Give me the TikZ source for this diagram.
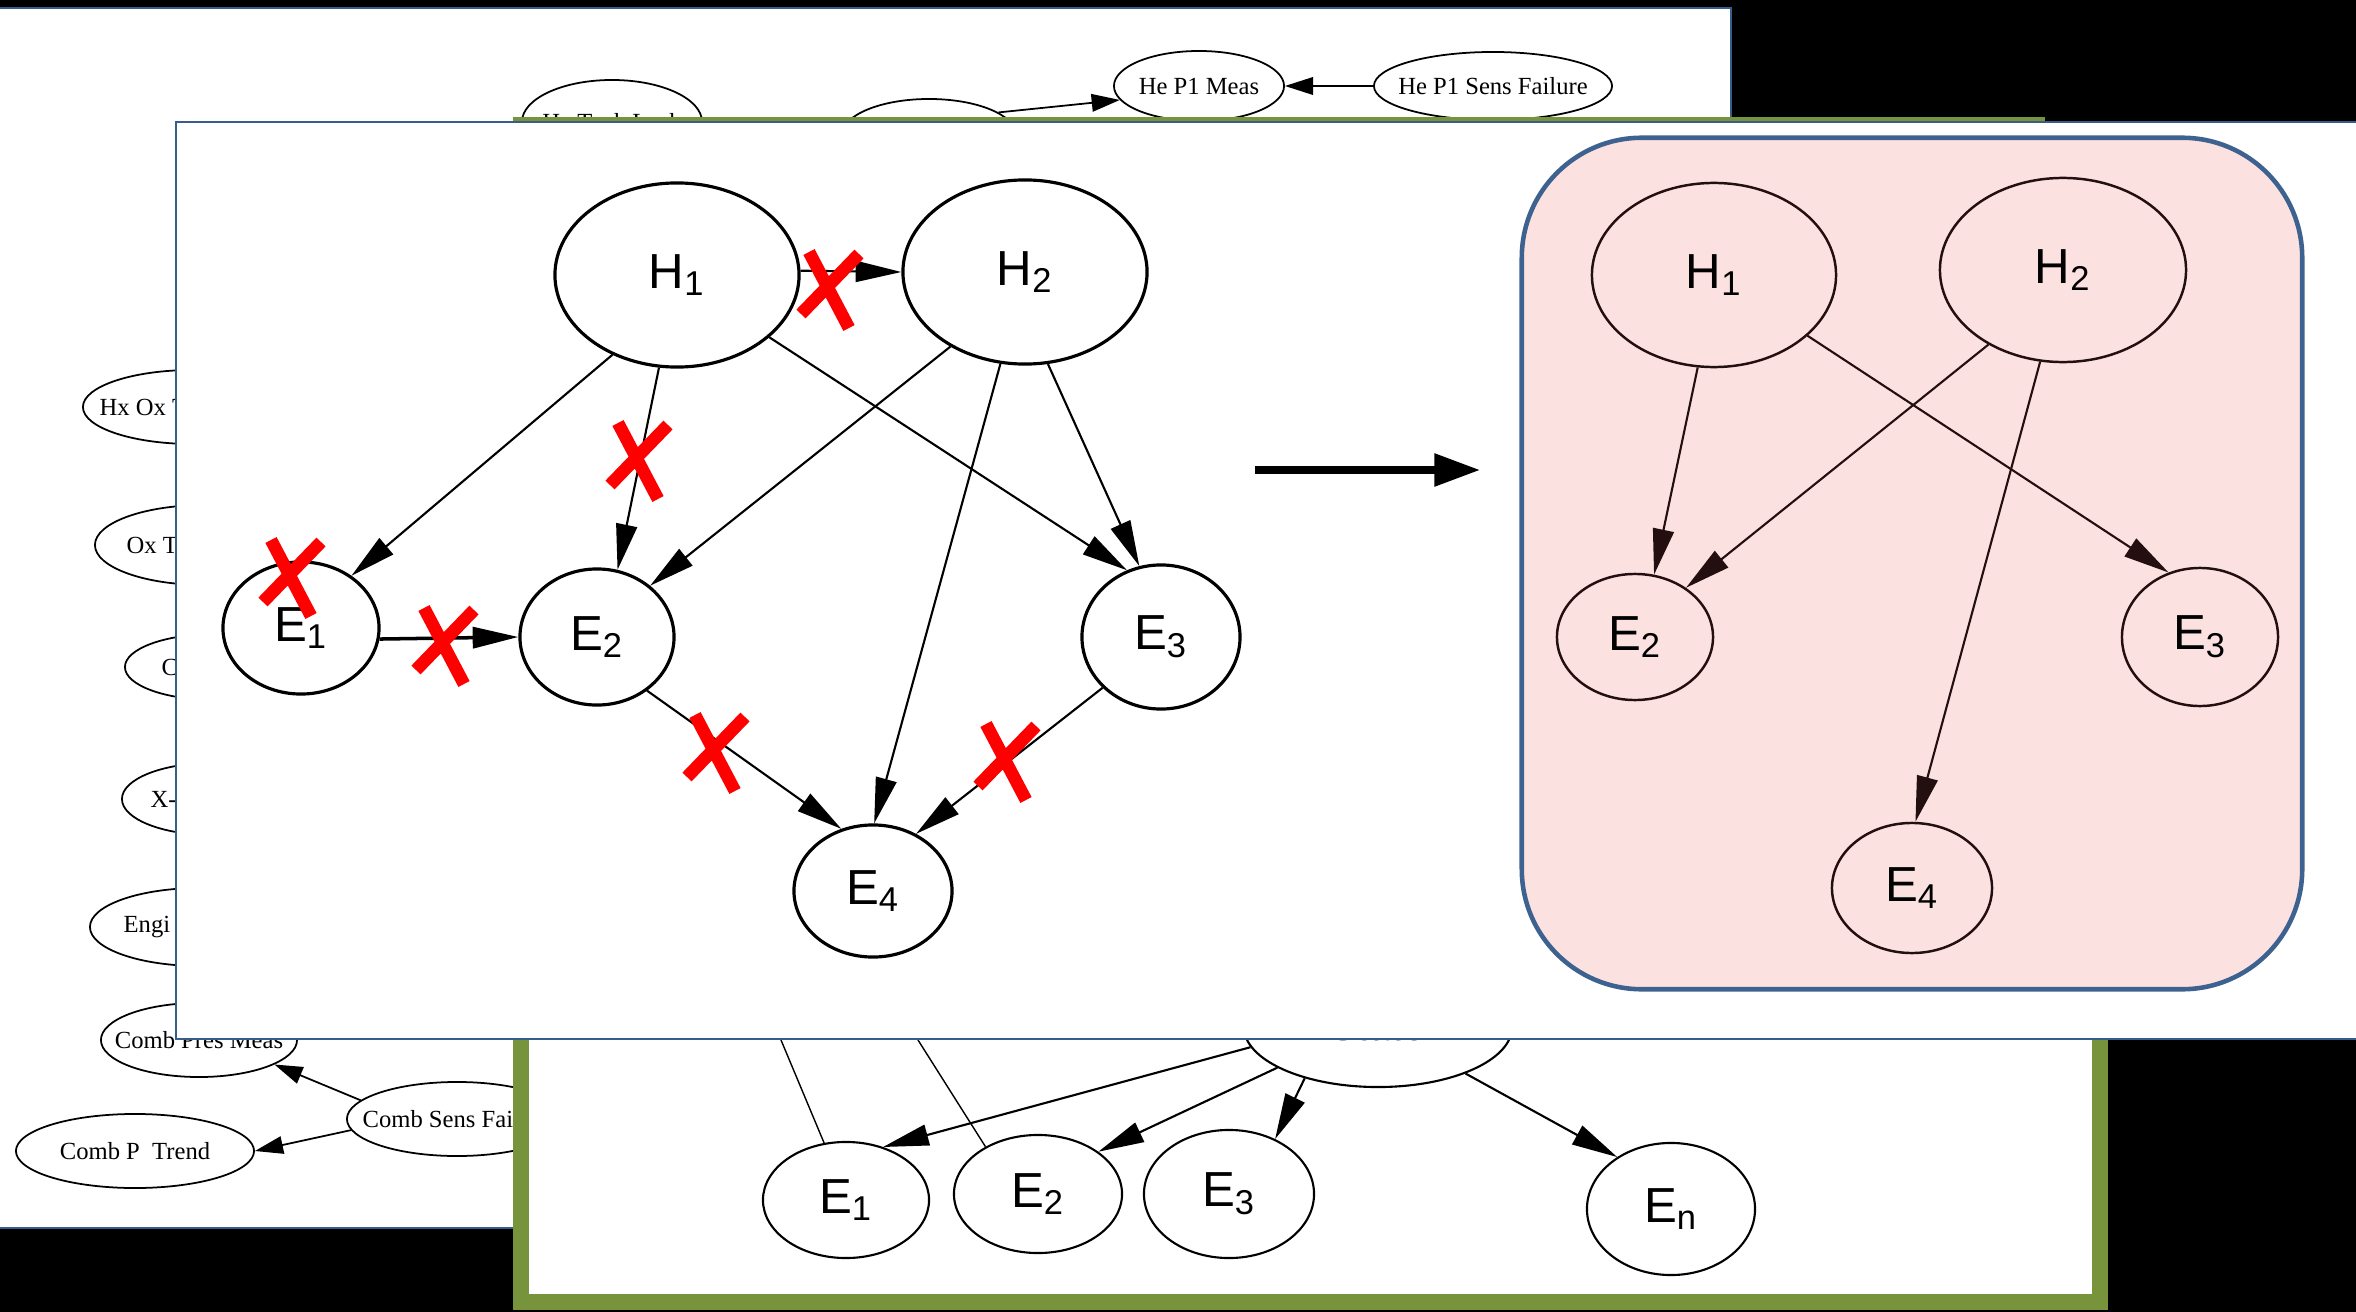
\documentclass[tikz,border=0pt]{standalone}
\usepackage{fontspec}
\setmainfont{Liberation Sans}
\newfontfamily\oldgraph{Liberation Serif}
\usepackage{xcolor}
\usetikzlibrary{arrows.meta,shapes.geometric,positioning}

\definecolor{panelblue}{RGB}{56,93,138}
\definecolor{framegreen}{RGB}{119,147,60}
\definecolor{boxblue}{RGB}{62,98,143}
\definecolor{boxpink}{RGB}{252,225,225}
\definecolor{inkdark}{RGB}{35,15,15}

\tikzset{
  nope/.pic={\draw[red,line width=3.6pt] (-22,-38) -- (18,38) (28,-36) -- (-30,24);}
}

\begin{document}
\begin{tikzpicture}[x=0.01cm,y=-0.01cm,auto,inner sep=1pt,
  >={Triangle[length=13pt,width=6pt]},
  hyp/.style={ellipse,draw,line width=0.9pt,inner sep=0pt,minimum width=2.44cm,minimum height=1.84cm,font=\fontsize{14}{14}\selectfont},
  evd/.style={ellipse,draw,line width=0.9pt,inner sep=0pt,minimum width=1.56cm,minimum height=1.34cm,font=\fontsize{14}{14}\selectfont},
  old/.style={ellipse,draw,line width=0.5pt,inner xsep=-0.25cm,inner ysep=-0.05cm,font=\oldgraph\fontsize{7}{8}\selectfont},
  frag/.style={anchor=west,inner sep=0pt,font=\oldgraph\fontsize{7}{8}\selectfont},
  link/.style={->,line width=0.6pt},
  oldlink/.style={->,line width=0.5pt,>={Triangle[length=8pt,width=5pt]}}]

\useasboundingbox (0,0) rectangle (2356,1312);
\fill[black] (0,0) rectangle (2356,1312);

% sheet at the back
\filldraw[fill=white,draw=panelblue,line width=0.6pt] (-20,8) rectangle (1731,1228);

\node[old,minimum width=1.70cm,minimum height=0.70cm] (meas) at (1199,86) {He P1 Meas};
\node[old,minimum width=2.38cm,minimum height=0.68cm] (sensf) at (1493,86) {He P1 Sens Failure};
\node[old,minimum width=1.74cm,minimum height=0.72cm] (hid) at (929,135) {};
\node[old,minimum width=1.80cm,minimum height=0.84cm] (leak) at (612,122) {He Tank Leak};
\path (sensf) edge[oldlink] (meas);
\path (hid.18) edge[oldlink] (meas.190);

\node[old,minimum width=2.2cm,minimum height=0.74cm] (hxox) at (193,407) {};
\node[frag] (hxoxt) at (99,407) {Hx Ox T};
\node[old,minimum width=2.2cm,minimum height=0.80cm] (oxt) at (205,545) {};
\node[frag] (oxtt) at (126,545) {Ox T};
\node[old,minimum width=1.8cm,minimum height=0.66cm] (cc) at (215,667) {};
\node[frag] (cct) at (161,667) {C};
\node[old,minimum width=1.8cm,minimum height=0.72cm] (xx) at (212,799) {};
\node[frag] (xxt) at (150,799) {X-};
\node[old,minimum width=2.2cm,minimum height=0.78cm] (engi) at (200,927) {};
\node[frag] (engit) at (123,927) {Engi};
\node[old,minimum width=1.96cm,minimum height=0.74cm] (cpm) at (199,1040) {Comb Pres Meas};
\node[old,minimum width=2.20cm,minimum height=0.74cm] (csf) at (457,1119) {Comb Sens Failure};
\node[old,minimum width=2.38cm,minimum height=0.74cm] (cpt) at (135,1151) {Comb P\ \ Trend};
\path (csf.169) edge[oldlink] (cpm.342);
\path (csf.186) edge[oldlink] (cpt.0);

% green sheet
\fill[white] (521,125) rectangle (2100,1302);
\draw[framegreen,line width=4.3pt] (2045,125) -- (521,125) -- (521,1302) -- (2100,1302) -- (2100,1000);

\node[ellipse,draw,line width=0.6pt,minimum width=2.68cm,minimum height=1.2cm,font=\bfseries\fontsize{11}{11}\selectfont] (state) at (1378,1027) {State};
\node[evd,line width=0.6pt,minimum width=1.66cm,minimum height=1.16cm] (b1) at (846,1200) {E\textsubscript{1}};
\node[evd,line width=0.6pt,minimum width=1.68cm,minimum height=1.18cm] (b2) at (1038,1194) {E\textsubscript{2}};
\node[evd,line width=0.6pt,minimum width=1.70cm,minimum height=1.28cm] (b3) at (1229,1194) {E\textsubscript{3}};
\node[evd,line width=0.6pt,minimum width=1.68cm,minimum height=1.32cm] (bn) at (1671,1209) {E\textsubscript{n}};
\coordinate (up1) at (781,1040);
\coordinate (up2) at (918,1040);

\path (state.189) edge[link] (b1.55);
\path (state.202) edge[link] (b2.35);
\path (state.215) edge[link] (b3.50);
\path (state.332) edge[link] (bn.136);
\path (up1) edge[line width=0.4pt] (b1.111);
\path (up2) edge[line width=0.4pt] (b2.138);

% front sheet
\filldraw[fill=white,draw=panelblue,line width=0.8pt] (176,122) rectangle (2380,1039);

\node[hyp] (H1) at (677,275) {H\textsubscript{1}};
\node[hyp] (H2) at (1025,272) {H\textsubscript{2}};
\node[evd,minimum height=1.32cm] (E1) at (301,628) {E\textsubscript{1}};
\node[evd,minimum width=1.54cm,minimum height=1.36cm] (E2) at (597,637) {E\textsubscript{2}};
\node[evd,minimum width=1.58cm,minimum height=1.44cm] (E3) at (1161,637) {E\textsubscript{3}};
\node[evd,minimum width=1.58cm,minimum height=1.32cm] (E4) at (873,891) {E\textsubscript{4}};

\path (H1.2) edge[link] (H2.180);
\path (H1.231) edge[link] (E1.46);
\path (H1.259) edge[link] (E2.73);
\path (H1.326) edge[link] (E3.117);
\path (H2.225) edge[link] (E2.44);
\path (H2.284) edge[link] (E3.107);
\path (H2.255) edge[link] (E4.89);
\path (E1.352) edge[link,line width=1pt] (E2.180);
\path (E2.313) edge[link] (E4.117);
\path (E3.221) edge[link] (E4.53);

\pic at (831,290) {nope};
\pic at (640,461) {nope};
\pic at (293,578) {nope};
\pic at (446,646) {nope};
\pic at (717,753) {nope};
\pic at (1008,762) {nope};

\coordinate (go) at (1255,470);
\coordinate (to) at (1480,470);
\draw[->,line width=2pt,>={Triangle[length=13pt,width=9pt]}] (go) -- (to);

% pruned graph
\node[draw=boxblue,fill=boxpink,line width=1.3pt,rounded corners=1.2cm,minimum width=7.8cm,minimum height=8.51cm] (after) at (1912,563.5) {};
\node[hyp,line width=0.7pt,draw=inkdark] (H1r) at (1714,275) {H\textsubscript{1}};
\node[hyp,line width=0.7pt,draw=inkdark,minimum width=2.46cm] (H2r) at (2063,270) {H\textsubscript{2}};
\node[evd,line width=0.7pt,draw=inkdark,minimum height=1.26cm] (E2r) at (1635,637) {E\textsubscript{2}};
\node[evd,line width=0.7pt,draw=inkdark,minimum height=1.38cm] (E3r) at (2200,637) {E\textsubscript{3}};
\node[evd,line width=0.7pt,draw=inkdark,minimum width=1.6cm,minimum height=1.30cm] (E4r) at (1912,888) {E\textsubscript{4}};

\path (H1r.260) edge[link,draw=inkdark,fill=inkdark] (E2r.73);
\path (H1r.327) edge[link,draw=inkdark,fill=inkdark] (E3r.116);
\path (H2r.225) edge[link,draw=inkdark,fill=inkdark] (E2r.44);
\path (H2r.256) edge[link,draw=inkdark,fill=inkdark] (E4r.87);
\end{tikzpicture}
\end{document}
